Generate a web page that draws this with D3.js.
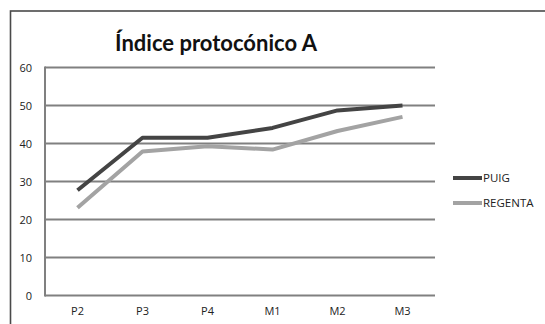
<!DOCTYPE html>
<html>
<head>
<meta charset="utf-8">
<script src="https://cdn.jsdelivr.net/npm/d3@7"></script>
<style>
  html, body { margin: 0; padding: 0; background: #fff; }
  svg { display: block; }
</style>
</head>
<body>
<svg id="chart" width="545" height="324"></svg>
<script>
// Periods along the x axis
const categories = ["P2", "P3", "P4", "M1", "M2", "M3"];
// Series values per period
const puig    = [27.7, 41.5, 41.5, 44.1, 48.7, 50.0];
const regenta = [23.1, 37.9, 39.3, 38.4, 43.3, 47.0];
const seriesNames = ["PUIG", "REGENTA"];
const seriesColors = ["#444444", "#a3a3a3"];
const yTicks = [0, 10, 20, 30, 40, 50, 60];

const svg = d3.select("#chart");
const W = 545, H = 324;

// Frame around the chart
svg.append("rect")
  .attr("x", 10.5).attr("y", 11).attr("width", W + 10).attr("height", H + 10)
  .attr("fill", "none").attr("stroke", "#4a4a4a").attr("stroke-width", 1.6);

// Title
svg.append("text")
  .attr("x", 216).attr("y", 51)
  .attr("text-anchor", "middle")
  .attr("font-family", "Lato, 'Open Sans', sans-serif")
  .attr("font-weight", "bold")
  .attr("font-size", 22)
  .attr("fill", "#111")
  .text("Índice protocónico A");

const plot = { left: 45, right: 435, top: 67.5, bottom: 295.5 };

const x = d3.scaleBand().domain(categories).range([plot.left, plot.right]);
const y = d3.scaleLinear().domain([0, 60]).range([plot.bottom, plot.top]);

// Horizontal gridlines
svg.append("g")
  .selectAll("line")
  .data(yTicks)
  .join("line")
  .attr("x1", plot.left).attr("x2", plot.right)
  .attr("y1", d => y(d)).attr("y2", d => y(d))
  .attr("stroke", "#808080").attr("stroke-width", 2);

// Vertical axis line
svg.append("line")
  .attr("x1", plot.left).attr("x2", plot.left)
  .attr("y1", y(60) - 1).attr("y2", y(0) + 1)
  .attr("stroke", "#808080").attr("stroke-width", 2);

// Y axis labels
const yAxis = d3.axisLeft(y).tickValues(yTicks).tickSize(0).tickPadding(13);
const gy = svg.append("g").attr("transform", `translate(${plot.left},0)`).call(yAxis);
gy.select(".domain").remove();
gy.selectAll("text")
  .attr("font-family", "'Open Sans', 'DejaVu Sans', sans-serif")
  .attr("font-size", 11).attr("fill", "#222");

// X axis labels
const xAxis = d3.axisBottom(x).tickSize(0).tickPadding(12);
const gx = svg.append("g").attr("transform", `translate(0,${plot.bottom})`).call(xAxis);
gx.select(".domain").remove();
gx.selectAll("text")
  .attr("font-family", "'Open Sans', 'DejaVu Sans', sans-serif")
  .attr("font-size", 11).attr("fill", "#222");

// Series lines
const line = d3.line()
  .x((d, i) => x(categories[i]) + x.bandwidth() / 2)
  .y(d => y(d));

[regenta, puig].forEach((vals, k) => {
  const idx = k === 0 ? 1 : 0;
  svg.append("path")
    .datum(vals)
    .attr("d", line)
    .attr("fill", "none")
    .attr("stroke", seriesColors[idx])
    .attr("stroke-width", 4)
    .attr("stroke-linejoin", "round");
});

// Legend
const legend = svg.append("g");
seriesNames.forEach((name, i) => {
  const ly = 178 + i * 25;
  legend.append("line")
    .attr("x1", 453).attr("x2", 482).attr("y1", ly).attr("y2", ly)
    .attr("stroke", seriesColors[i]).attr("stroke-width", 4);
  legend.append("text")
    .attr("x", 483).attr("y", ly).attr("dy", "0.36em")
    .attr("font-family", "'Open Sans', 'DejaVu Sans', sans-serif")
    .attr("font-size", 11.5).attr("fill", "#222")
    .text(name);
});
</script>
</body>
</html>
